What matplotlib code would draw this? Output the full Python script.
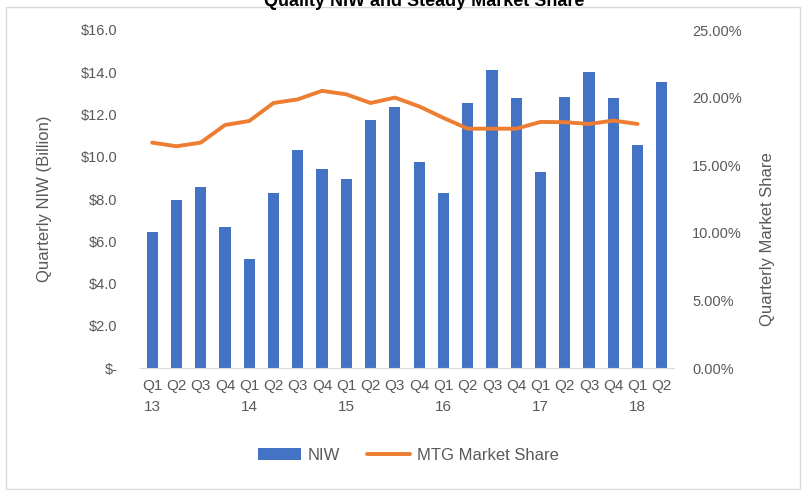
import matplotlib
matplotlib.use("Agg")
import matplotlib.pyplot as plt
from matplotlib.patches import Rectangle
import numpy as np

plt.rcParams['font.family'] = ['Liberation Sans', 'DejaVu Sans']

quarters = ["Q1\n13", "Q2", "Q3", "Q4", "Q1\n14", "Q2", "Q3", "Q4", "Q1\n15", "Q2", "Q3", "Q4",
            "Q1\n16", "Q2", "Q3", "Q4", "Q1\n17", "Q2", "Q3", "Q4", "Q1\n18", "Q2"]
niw = [6.45, 7.96, 8.58, 6.68, 5.17, 8.30, 10.33, 9.43, 8.96, 11.75, 12.37, 9.76,
       8.30, 12.56, 14.12, 12.80, 9.29, 12.84, 14.03, 12.80, 10.57, 13.55]
share = [16.67, 16.40, 16.67, 17.97, 18.27, 19.60, 19.87, 20.50, 20.24, 19.60, 20.00, 19.35,
         18.50, 17.70, 17.70, 17.70, 18.20, 18.18, 18.05, 18.30, 18.05]
left_ticks = [0, 2, 4, 6, 8, 10, 12, 14, 16]
left_labels = ["$-", "$2.0", "$4.0", "$6.0", "$8.0", "$10.0", "$12.0", "$14.0", "$16.0"]
right_ticks = [0, 5, 10, 15, 20, 25]
right_labels = ["0.00%", "5.00%", "10.00%", "15.00%", "20.00%", "25.00%"]

W, H = 808, 490
fig = plt.figure(figsize=(W / 100, H / 100), dpi=100)
ax = fig.add_axes([140 / W, 1 - 368 / H, (674 - 140) / W, (368 - 30) / H])
ax2 = ax.twinx()

x = np.arange(len(niw))
grey = '#595959'
bars = ax.bar(x, niw, width=0.46, color='#4472C4', zorder=2)
line, = ax2.plot(np.arange(len(share)), share, color='#ED7D31', lw=2.8,
                 solid_capstyle='round', zorder=3)

ax.set_xlim(-0.5, len(niw) - 0.5)
ax.set_ylim(0, 16)
ax2.set_ylim(0, 25)
ax.set_yticks(left_ticks)
ax.set_yticklabels(left_labels)
ax2.set_yticks(right_ticks)
ax2.set_yticklabels(right_labels)
ax.set_xticks(x)
ax.set_xticklabels(quarters, linespacing=1.6, va='top')

for a in (ax, ax2):
    for s in a.spines.values():
        s.set_visible(False)
    a.tick_params(length=0, colors=grey, labelsize=10.5)
ax.spines['bottom'].set_visible(True)
ax.spines['bottom'].set_color('#d9d9d9')
ax.tick_params(axis='y', pad=16)
ax2.tick_params(axis='y', pad=13)
ax.tick_params(axis='x', pad=8, labelsize=11)

ax.set_ylabel("Quarterly NIW (Billion)", color=grey, fontsize=12)
ax2.set_ylabel("Quarterly Market Share", color=grey, fontsize=12)
ax2.yaxis.set_label_coords(1 + 86 / (674 - 140), 0.38)
ax.yaxis.set_label_coords(-88 / (674 - 140), 0.5)

fig.text(424 / W, 1 - 1 / H, "Quality NIW and Steady Market Share", ha='center', va='center',
         fontsize=13, fontweight='bold', color='black')

fig.patches.append(Rectangle((6 / W, 0.003), (800 - 6) / W, 1 - 7 / H - 0.003,
                             transform=fig.transFigure, fill=False, ec='#d9d9d9', lw=1))

leg = fig.legend([bars, line], ["NIW", "MTG Market Share"], loc='center',
                 bbox_to_anchor=(408 / W, 1 - 455 / H), ncol=2, frameon=False,
                 fontsize=12, handlelength=2.6, columnspacing=1.6, handletextpad=0.4)
for t in leg.get_texts():
    t.set_color(grey)

fig.savefig("out.png", dpi=100)
